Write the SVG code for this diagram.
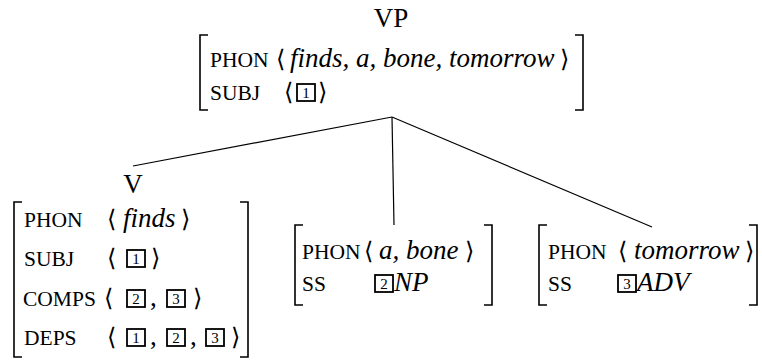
<svg xmlns="http://www.w3.org/2000/svg" width="762" height="360" viewBox="0 0 762 360" font-family="'Liberation Serif', 'Times New Roman', serif">
<style>
text{font-family:'Liberation Serif','Times New Roman',serif;fill:#000}
.f{font-size:21.5px}
.m{font-size:27px}
.it{font-style:italic}
text.ab{font-family:'DejaVu Sans','Liberation Serif',serif;font-size:24px;font-weight:normal}
text.num{font-size:15px;text-anchor:middle}
.br{fill:none;stroke:#000;stroke-width:1.6}
.box{fill:none;stroke:#000;stroke-width:1.8}
.ln{stroke:#000;stroke-width:1.2;fill:none}
</style>
<defs>
<g id="b1"><rect class="box" x="0" y="0" width="18" height="17"/><text class="num" x="9" y="14">1</text></g>
<g id="b2"><rect class="box" x="0" y="0" width="18" height="17"/><text class="num" x="9" y="14">2</text></g>
<g id="b3"><rect class="box" x="0" y="0" width="18" height="17"/><text class="num" x="9" y="14">3</text></g>
</defs>
<g id="connectors">
<line class="ln" x1="392" y1="117" x2="133" y2="166"/>
<line class="ln" x1="392" y1="117" x2="394" y2="225"/>
<line class="ln" x1="392" y1="117" x2="652" y2="227"/>
</g>
<g id="vp">
<text class="m" x="391" y="27" text-anchor="middle">VP</text>
<path class="br" d="M208,35 H200 V110 H208"/>
<path class="br" d="M575,35 H583 V110 H575"/>
<text class="f" x="210" y="67">PHON</text>
<text class="ab" x="276" y="67">⟨</text>
<text class="m it" x="290" y="67">finds, a, bone, tomorrow</text>
<text class="ab" x="560" y="67">⟩</text>
<text class="f" x="210" y="100">SUBJ</text>
<text class="ab" x="284" y="100">⟨</text>
<use href="#b1" x="297" y="84"/>
<text class="ab" x="318" y="100">⟩</text>
</g>
<g id="v">
<text class="m" x="133" y="193" text-anchor="middle">V</text>
<path class="br" d="M22,202 H14 V357 H22"/>
<path class="br" d="M240,202 H248 V357 H240"/>
<text class="f" x="24" y="227">PHON</text>
<text class="ab" x="107" y="227">⟨</text>
<text class="m it" x="123" y="227">finds</text>
<text class="ab" x="181" y="227">⟩</text>
<text class="f" x="24" y="266">SUBJ</text>
<text class="ab" x="107" y="266">⟨</text>
<use href="#b1" x="127" y="250"/>
<text class="ab" x="151" y="266">⟩</text>
<text class="f" x="23" y="306">COMPS</text>
<text class="ab" x="104" y="306">⟨</text>
<use href="#b2" x="127" y="290"/>
<text class="m" x="150" y="306">,</text>
<use href="#b3" x="167" y="290"/>
<text class="ab" x="193" y="306">⟩</text>
<text class="f" x="24" y="345">DEPS</text>
<text class="ab" x="107" y="345">⟨</text>
<use href="#b1" x="127" y="329"/>
<text class="m" x="150" y="345">,</text>
<use href="#b2" x="167" y="329"/>
<text class="m" x="190" y="345">,</text>
<use href="#b3" x="206" y="329"/>
<text class="ab" x="231" y="345">⟩</text>
</g>
<g id="np">
<path class="br" d="M303,225 H295 V305 H303"/>
<path class="br" d="M484,225 H492 V305 H484"/>
<text class="f" x="302" y="259">PHON</text>
<text class="ab" x="364" y="259">⟨</text>
<text class="m it" x="379" y="259">a, bone</text>
<text class="ab" x="465" y="259">⟩</text>
<text class="f" x="302" y="291">SS</text>
<use href="#b2" x="375" y="275"/>
<text class="m it" x="394" y="291">NP</text>
</g>
<g id="adv">
<path class="br" d="M547,225 H539 V305 H547"/>
<path class="br" d="M749,225 H757 V305 H749"/>
<text class="f" x="548" y="259">PHON</text>
<text class="ab" x="618" y="259">⟨</text>
<text class="m it" x="634" y="259">tomorrow</text>
<text class="ab" x="745" y="259">⟩</text>
<text class="f" x="548" y="291">SS</text>
<use href="#b3" x="618" y="275"/>
<text class="m it" x="637" y="291">ADV</text>
</g>
</svg>
